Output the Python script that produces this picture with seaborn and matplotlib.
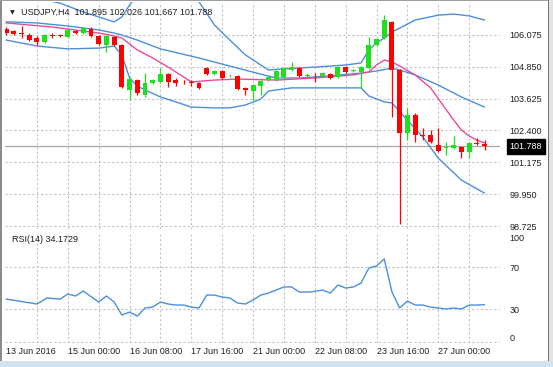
import matplotlib
matplotlib.use('Agg')
import matplotlib.pyplot as plt
import matplotlib.transforms as mtransforms
from matplotlib.patches import Rectangle
import pandas as pd
import seaborn as sns

sns.set_style('white')
plt.rcParams['font.family'] = ['Liberation Sans', 'DejaVu Sans']

W, H = 553, 367

# USDJPY H4 candles, bar index 0..62 (left to right)
opens = [106.31, 106.23, 106.17, 106.075, 105.96, 105.80, 106.09, 106.08, 106.00, 106.23,
         106.15, 106.31, 106.04, 105.69, 106.00, 105.69, 103.95, 104.34, 103.76, 104.22,
         104.26, 104.57, 104.34, 104.28, 104.27, 104.22, 104.80, 104.57, 104.68, 104.48,
         104.49, 104.03, 103.91, 104.10, 104.34, 104.34, 104.45, 104.72, 104.80, 104.51,
         104.47, 104.49, 104.57, 104.45, 104.84, 104.70, 104.65, 104.80, 105.69, 105.96,
         106.58, 104.72, 102.29, 102.98, 102.23, 102.21, 101.83, 101.74, 101.71, 101.75,
         101.56, 101.92, 101.895]
highs = [106.38, 106.27, 106.42, 106.15, 106.04, 106.11, 106.15, 106.13, 106.31, 106.27,
         106.40, 106.38, 106.07, 106.07, 106.04, 105.73, 104.45, 104.40, 104.61, 104.38,
         104.80, 104.61, 104.41, 104.34, 104.34, 104.26, 104.84, 104.72, 104.72, 104.57,
         104.53, 104.07, 104.18, 104.34, 104.49, 104.72, 104.84, 105.03, 104.84, 104.61,
         104.61, 104.65, 104.61, 104.88, 104.88, 104.78, 104.88, 106.00, 105.96, 106.85,
         106.62, 104.76, 103.25, 103.06, 102.48, 102.40, 102.48, 101.94, 102.17, 101.79,
         101.94, 102.13, 102.026]
lows = [106.08, 106.07, 105.96, 105.84, 105.69, 105.76, 105.96, 106.00, 105.96, 106.11,
        106.11, 106.00, 105.69, 105.42, 105.65, 104.03, 103.56, 103.76, 103.68, 104.18,
        104.22, 104.07, 104.10, 104.18, 104.10, 103.99, 104.53, 104.53, 104.38, 104.45,
        103.95, 103.76, 103.56, 103.76, 104.30, 104.30, 104.41, 104.68, 104.45, 104.45,
        104.26, 104.45, 104.38, 104.41, 104.61, 104.65, 104.03, 104.76, 105.65, 105.92,
        102.91, 98.81, 102.02, 101.94, 102.02, 101.90, 101.59, 101.44, 101.67, 101.36,
        101.36, 101.83, 101.667]
closes = [106.15, 106.11, 106.13, 105.88, 105.80, 106.075, 106.05, 106.04, 106.27, 106.15,
          106.35, 106.04, 105.73, 106.04, 105.69, 104.07, 104.38, 103.83, 104.22, 104.34,
          104.57, 104.26, 104.22, 104.25, 104.24, 104.03, 104.57, 104.68, 104.41, 104.51,
          103.99, 103.95, 104.14, 104.30, 104.45, 104.68, 104.80, 104.84, 104.49, 104.55,
          104.44, 104.61, 104.41, 104.84, 104.65, 104.73, 104.84, 105.69, 105.92, 106.65,
          104.72, 102.29, 102.98, 102.21, 102.19, 101.94, 101.63, 101.77, 101.83, 101.56,
          101.90, 101.88, 101.788]

# Bollinger bands and moving average, read at selected bars
upper_k = [0, 4, 7, 10, 12, 14, 15, 16, 17, 20, 23, 25, 27, 29, 31, 33, 34, 36, 40, 44,
           46, 47, 48, 49, 50, 51, 53, 56, 58, 60, 62]
upper = [107.55, 107.50, 107.30, 106.96, 106.77, 106.58, 106.77, 107.23, 107.61, 108.00,
         107.81, 107.35, 106.46, 105.88, 105.31, 104.92, 104.73, 104.77, 104.84, 104.92,
         105.00, 105.50, 105.77, 105.96, 106.19, 106.34, 106.65, 106.84, 106.88, 106.81,
         106.65]
middle_k = [0, 4, 8, 12, 14, 15, 17, 20, 25, 30, 33, 35, 38, 42, 46, 48, 50, 51, 53, 56,
            59, 62]
middle = [106.58, 106.54, 106.42, 106.27, 106.15, 106.075, 105.88, 105.54, 105.19, 104.80,
          104.57, 104.42, 104.42, 104.50, 104.61, 104.69, 104.80, 104.73, 104.54, 104.15,
          103.69, 103.30]
ma_k = [0, 6, 12, 14, 15, 17, 19, 21, 24, 27, 30, 35, 40, 45, 47, 48, 49, 50, 51, 53,
        55, 58, 59, 60, 61, 62]
ma = [106.54, 106.38, 106.15, 106.04, 105.96, 105.50, 105.19, 104.84, 104.27, 104.34,
      104.38, 104.34, 104.42, 104.54, 104.65, 104.92, 105.11, 105.04, 104.88, 104.54,
      104.04, 102.80, 102.42, 102.19, 102.03, 101.92]
lower_k = [0, 4, 8, 12, 14, 15, 16, 17, 18, 20, 22, 24, 27, 29, 31, 33, 34, 37, 46, 47,
           49, 50, 52, 54, 56, 59, 62]
lower = [105.88, 105.65, 105.54, 105.57, 105.65, 105.31, 104.42, 104.11, 103.96, 103.69,
         103.50, 103.30, 103.27, 103.27, 103.38, 103.61, 103.92, 104.04, 104.04, 103.73,
         103.50, 103.46, 102.80, 102.15, 101.34, 100.49, 99.99]

# RSI(14)
rsi_k = [0, 4, 5.3, 7, 8, 9, 10, 12, 13, 14, 15, 16, 17, 18, 19, 20, 21, 22, 23, 24,
         25, 26, 27, 28, 29, 30, 31, 32, 33, 34, 35, 36, 37, 38, 39.5, 41, 42, 43, 44, 45,
         46, 47, 48, 49, 50, 51, 52, 53, 54, 55, 56, 57, 58, 59, 60, 61, 62]
rsi = [39.5, 34.8, 40.5, 39.5, 44.3, 42.4, 47.1, 36.7, 42.4, 36.7, 24.3, 27.1, 23.3, 31.0,
       31.9, 36.7, 34.8, 33.8, 33.8, 31.9, 31.0, 43.3, 43.3, 41.4, 40.5, 35.7, 34.8, 38.6,
       43.3, 45.2, 48.1, 51.0, 51.0, 46.2, 46.2, 48.1, 45.2, 52.9, 50.0, 51.0, 54.8, 69.0,
       71.0, 77.6, 46.2, 31.0, 37.6, 33.8, 33.8, 31.9, 31.0, 30.0, 31.0, 30.0, 33.8, 33.8,
       34.17]

price_ticks = [106.075, 104.850, 103.625, 102.400, 101.175, 99.950, 98.725]
date_labels = ['13 Jun 2016', '15 Jun 00:00', '16 Jun 08:00', '17 Jun 16:00',
               '21 Jun 00:00', '22 Jun 08:00', '23 Jun 16:00', '27 Jun 00:00']

UP = '#1EE01E'
DOWN = '#FF0000'
BAND = '#4C8FDB'
PINK = '#E84C98'
GRID = '#C4C4C4'
FS = 6.5


def px_axes(fig, x0, y0, x1, y1):
    return fig.add_axes([x0 / W, 1 - y1 / H, (x1 - x0) / W, (y1 - y0) / H])


fig = plt.figure(figsize=(W / 100, H / 100), dpi=100)
fig.patch.set_facecolor('white')

# window frame
for (x0, y0, w, h, c) in [(0, 0, 2, H, '#8C8C8C'), (0, 0, W, 1, '#A0A0A0'),
                          (548, 0, 1, H, '#707070'), (549, 0, 4, H, '#E4E4E4'),
                          (0, 361, W, 6, '#D3E2F1')]:
    fig.patches.append(Rectangle((x0 / W, 1 - (y0 + h) / H), w / W, h / H,
                                 transform=fig.transFigure, color=c, zorder=0, lw=0))

ax = px_axes(fig, 5, 2, 500, 229)
ax_rsi = px_axes(fig, 5, 232, 500, 343)

# price scale: 106.075 at y=35px, 98.725 at y=226px
ppx = (106.075 - 98.725) / 191
ax.set_ylim(98.725 - 3 * ppx, 106.075 + 33 * ppx)
xlim = ((5 - 6.1) / 7.714, 64)
ax.set_xlim(*xlim)
ax_rsi.set_xlim(*xlim)

# candles
df = pd.DataFrame({'open': opens, 'high': highs, 'low': lows, 'close': closes})
df['k'] = range(len(df))
df['color'] = [UP if c >= o else DOWN for o, c in zip(df['open'], df['close'])]
df['bottom'] = df[['open', 'close']].min(axis=1)
df['height'] = (df['close'] - df['open']).abs().clip(lower=0.035)
ax.vlines(df['k'], df['low'], df['high'], colors=df['color'], lw=0.9, zorder=3)
ax.bar(df['k'], df['height'], bottom=df['bottom'], width=0.64, color=df['color'],
       linewidth=0, zorder=4)

sns.lineplot(x=upper_k, y=upper, ax=ax, color=BAND, lw=1, zorder=2)
sns.lineplot(x=middle_k, y=middle, ax=ax, color=BAND, lw=1, zorder=2)
sns.lineplot(x=lower_k, y=lower, ax=ax, color=BAND, lw=1, zorder=2)
sns.lineplot(x=ma_k, y=ma, ax=ax, color=PINK, lw=1, zorder=2)

ax.axhline(closes[-1], color='#A8A8A8', lw=0.9, zorder=1)

grid_kw = dict(color=GRID, lw=0.8, ls=(0, (2, 2)))
ax.set_xticks(range(4, 65, 4))
ax.set_yticks(price_ticks)
ax.set_yticklabels([f'{p:.3f}' for p in price_ticks])
ax.grid(True, **grid_kw)
ax.tick_params(axis='x', labelbottom=False, length=0)
ax.tick_params(axis='y', labelleft=False, labelright=True, length=0, pad=7,
               labelsize=FS, labelcolor='#202020')

# last price tag
ax.text(1 + 9.7 / 495, closes[-1], f'{closes[-1]:.3f}',
        transform=mtransforms.blended_transform_factory(ax.transAxes, ax.transData),
        ha='left', va='center', color='white', fontsize=FS,
        bbox=dict(boxstyle='square,pad=0.32', fc='black', ec='black'), zorder=10, clip_on=False)

fig.text(10 / W, 1 - 12.5 / H, '\u25bc', fontsize=4.5, family='DejaVu Sans', va='center')
fig.text(21 / W, 1 - 12.5 / H, 'USDJPY,H4  101.895 102.026 101.667 101.788',
         fontsize=FS, va='center', color='#202020')

# RSI panel
sns.lineplot(x=rsi_k, y=rsi, ax=ax_rsi, color=BAND, lw=1)
ax_rsi.set_ylim(-2.3, 103.3)
ax_rsi.set_yticks([0, 30, 70, 100])
ax_rsi.set_yticklabels(['0', '30', '70', '100'])
tick_ks = list(range(0, 65, 4))
ax_rsi.set_xticks(tick_ks)
labels = [''] * len(tick_ks)
for i, lab in enumerate(date_labels):
    labels[i * 2] = lab
ax_rsi.set_xticklabels(labels, ha='left')
ax_rsi.grid(True, **grid_kw)
ax_rsi.get_xgridlines()[0].set_visible(False)
ax_rsi.get_ygridlines()[0].set_visible(False)
ax_rsi.get_ygridlines()[3].set_visible(False)
ax_rsi.axhline(-1.4, **grid_kw)
ax_rsi.tick_params(axis='x', length=0, pad=3, labelsize=FS, labelcolor='#202020')
ax_rsi.tick_params(axis='y', labelleft=False, labelright=True, length=0, pad=7,
                   labelsize=FS, labelcolor='#202020')
# MT4 nudges the min/max labels inwards
ylabs = ax_rsi.get_yticklabels()
for lab, dy in ((ylabs[0], 3.5), (ylabs[3], -2.5)):
    lab.set_transform(lab.get_transform() + mtransforms.ScaledTranslation(0, dy / 100, fig.dpi_scale_trans))
ax_rsi.text(7 / 495, 0.93, 'RSI(14) 34.1729', transform=ax_rsi.transAxes, fontsize=FS,
            va='center', color='#202020')

for a in (ax, ax_rsi):
    for s in a.spines.values():
        s.set_visible(False)
    a.set_xlabel('')
    a.set_ylabel('')
    a.set_facecolor('white')

fig.savefig('out.png', dpi=100)
